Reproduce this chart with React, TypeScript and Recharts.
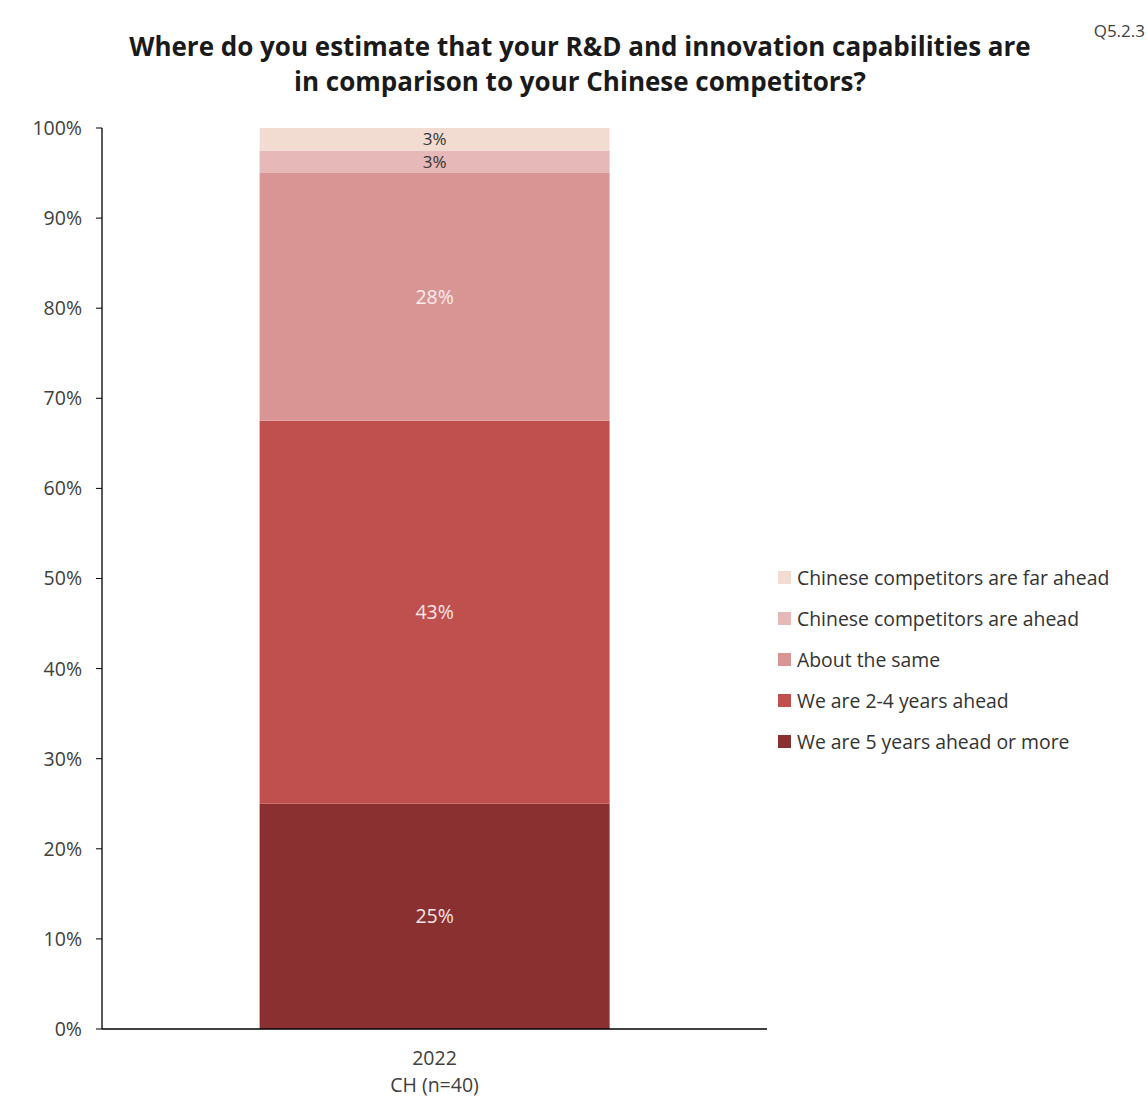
import React from "react";
import { BarChart, Bar, XAxis, YAxis, LabelList } from "recharts";

const categories = ["2022|CH (n=40)"];
const fiveYearsAhead = [25];
const twoToFourAhead = [42.5];
const aboutSame = [27.5];
const chineseAhead = [2.5];
const chineseFarAhead = [2.5];
const yTicks = [0, 10, 20, 30, 40, 50, 60, 70, 80, 90, 100];

const seriesDefs = [
  { key: "five", name: "We are 5 years ahead or more", color: "#8A3030", labelColor: "#F2E6E6", labelSize: 19.5, values: fiveYearsAhead },
  { key: "two", name: "We are 2-4 years ahead", color: "#C0504D", labelColor: "#F5E6E6", labelSize: 19.5, values: twoToFourAhead },
  { key: "same", name: "About the same", color: "#D99594", labelColor: "#F8ECEC", labelSize: 19.5, values: aboutSame },
  { key: "ahead", name: "Chinese competitors are ahead", color: "#E6B8B7", labelColor: "#333333", labelSize: 17, values: chineseAhead },
  { key: "far", name: "Chinese competitors are far ahead", color: "#F2DCD2", labelColor: "#333333", labelSize: 17, values: chineseFarAhead },
];

const data = categories.map((c, i) => {
  const row: any = { cat: c };
  seriesDefs.forEach((s) => (row[s.key] = s.values[i]));
  return row;
});

const FONT = "'Open Sans', 'Noto Sans', sans-serif";

const XTick = (props: any) => {
  const { x, y, payload } = props;
  const lines = String(payload.value).split("|");
  return (
    <g>
      {lines.map((l, i) => (
        <text key={i} x={x} y={y + 28 + i * 27} textAnchor="middle" fill="#404040" fontSize={19.5} fontFamily={FONT}>
          {l}
        </text>
      ))}
    </g>
  );
};

const LegendBlock = () => (
  <div style={{ position: "absolute", left: 778, top: 557, fontFamily: FONT, fontSize: 19.4, color: "#333" }}>
    {[...seriesDefs].reverse().map((s) => (
      <div key={s.key} style={{ display: "flex", alignItems: "center", height: 41 }}>
        <span style={{ width: 13, height: 13, background: s.color, display: "inline-block", marginRight: 6 }} />
        <span>{s.name}</span>
      </div>
    ))}
  </div>
);

export default function App() {
  return (
    <div style={{ position: "absolute", left: 0, top: 0, width: 1147, height: 1097, background: "#fff" }}>
      <BarChart
        width={1147}
        height={1097}
        data={data}
        margin={{ top: 128, right: 380, bottom: 0, left: 0 }}
        barCategoryGap="23.7%"
      >
        <XAxis
          dataKey="cat"
          height={68}
          tick={<XTick />}
          tickLine={false}
          axisLine={{ stroke: "#000", strokeWidth: 1.3 }}
          interval={0}
        />
        <YAxis
          width={102}
          domain={[0, 100]}
          ticks={yTicks}
          interval={0}
          tickFormatter={(v: number) => `${v}%`}
          tick={{ fill: "#404040", fontSize: 19.5, fontFamily: FONT }}
          tickSize={6}
          tickMargin={14}
          tickLine={{ stroke: "#000" }}
          axisLine={{ stroke: "#000", strokeWidth: 1.3 }}
        />
        {seriesDefs.map((s) => (
          <Bar key={s.key} dataKey={s.key} name={s.name} stackId="a" fill={s.color} isAnimationActive={false}>
            <LabelList
              dataKey={s.key}
              position="center"
              formatter={(v: any) => `${Math.round(Number(v))}%`}
              fill={s.labelColor}
              fontSize={s.labelSize}
              fontFamily={FONT}
            />
          </Bar>
        ))}
      </BarChart>
      <div
        style={{
          position: "absolute",
          left: 0,
          width: 1160,
          top: 29,
          textAlign: "center",
          fontFamily: FONT,
          fontWeight: 700,
          fontSize: 26,
          lineHeight: "35px",
          color: "#1a1a1a",
        }}
      >
        Where do you estimate that your R&amp;D and innovation capabilities are
        <br />
        in comparison to your Chinese competitors?
      </div>
      <div style={{ position: "absolute", right: 2, top: 19, fontFamily: FONT, fontSize: 17, color: "#404040" }}>Q5.2.3</div>
      <LegendBlock />
    </div>
  );
}
